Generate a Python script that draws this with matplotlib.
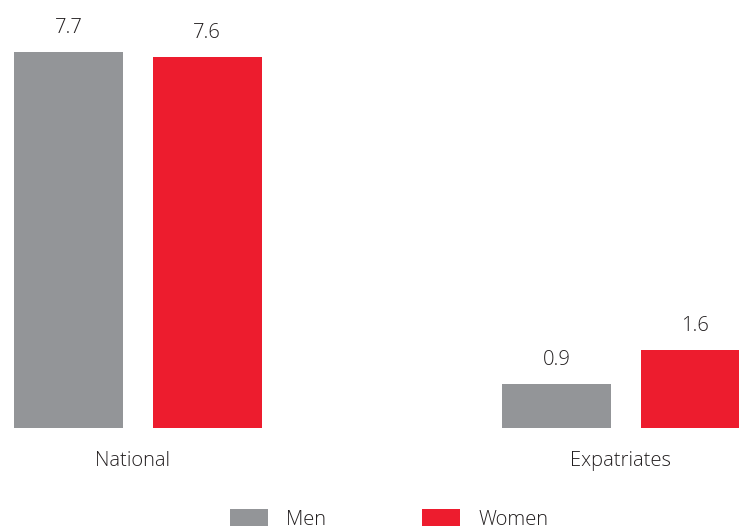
import numpy as np
import matplotlib
matplotlib.use('Agg')
import matplotlib.pyplot as plt

plt.rcParams['font.family'] = ['Open Sans', 'DejaVu Sans']

# data
groups = ['National', 'Expatriates']
men = [7.7, 0.9]
women = [7.6, 1.6]
series_names = ['Men', 'Women']
colors = ['#939598', '#ED1C2E']
text_color = '#231F20'

fig = plt.figure(figsize=(7.39, 5.30), dpi=100)
ax = fig.add_axes([0, (530 - 428) / 530, 1, 428 / 530])

x = np.arange(len(groups))
offset = 0.142
width = 0.2234

b1 = ax.bar(x - offset, men, width, color=colors[0], label=series_names[0])
b2 = ax.bar(x + offset, women, width, color=colors[1], label=series_names[1])

for bars, vals in [(b1, men), (b2, women)]:
    for rect, v in zip(bars, vals):
        ax.annotate('{:.1f}'.format(v), xy=(rect.get_x() + rect.get_width() / 2, v),
                    xytext=(0, 17), textcoords='offset points',
                    ha='center', va='center', fontsize=14.5, color=text_color,
                    fontweight='light')

for xi, g in zip(x, groups):
    ax.annotate(g, xy=(xi - 0.01, 0), xytext=(0, -24), textcoords='offset points',
                ha='center', va='center', fontsize=14.5, color=text_color,
                fontweight='light', annotation_clip=False)

ax.set_xlim(-0.2823, 1.232)
ax.set_ylim(0, 8.765)
ax.axis('off')

leg = fig.legend(loc='upper left', bbox_to_anchor=(230 / 739, (530 - 509) / 530),
                 ncol=2, frameon=False, fontsize=14.5, borderpad=0, borderaxespad=0,
                 handlelength=1.9, handleheight=0.95, handletextpad=0.9,
                 columnspacing=4.75)
for t in leg.get_texts():
    t.set_color(text_color)
    t.set_fontweight('light')

fig.savefig('out.png', dpi=100)
